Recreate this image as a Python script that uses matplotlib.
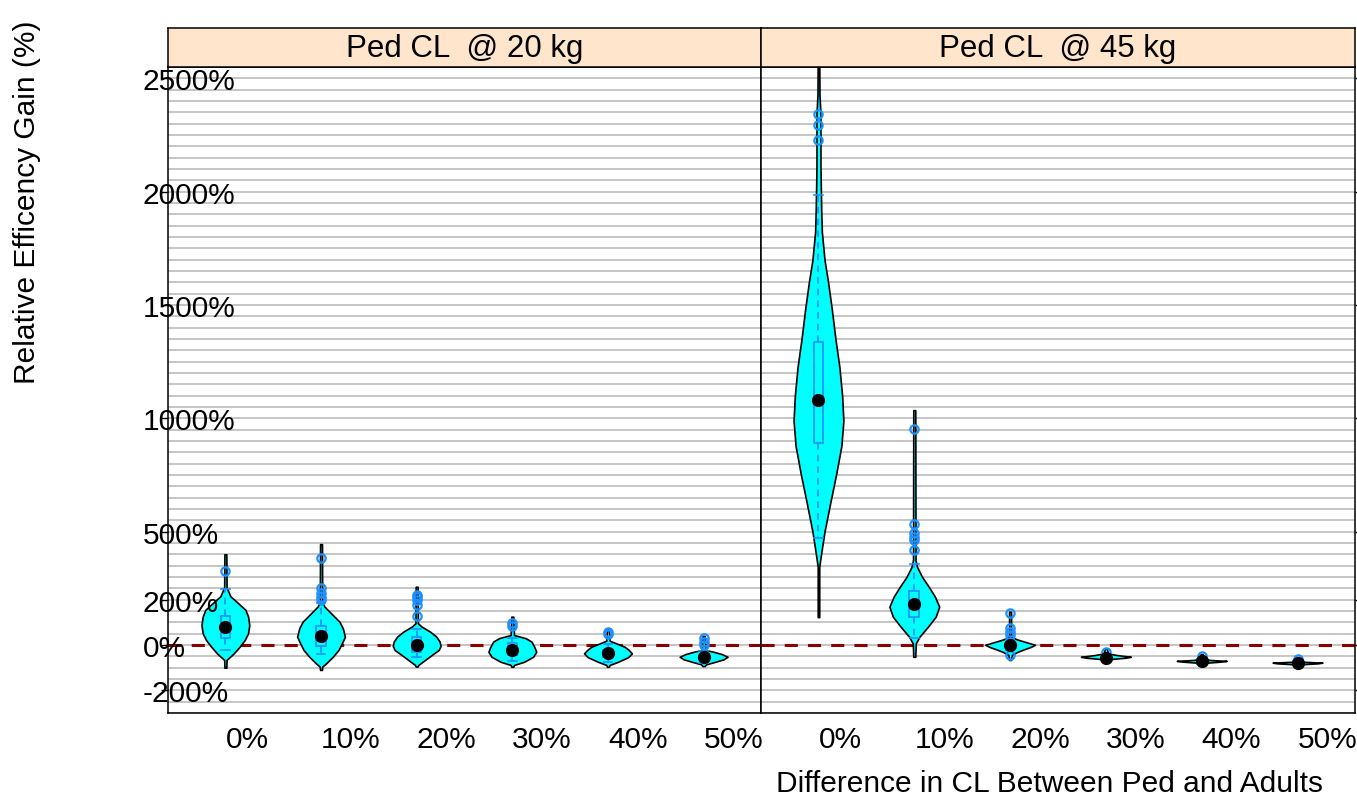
import matplotlib
matplotlib.use("Agg")
import matplotlib.pyplot as plt
import matplotlib.transforms as mtransforms
from matplotlib.patches import Rectangle
from matplotlib.ticker import MultipleLocator
import numpy as np

plt.rcParams['font.family'] = ['Liberation Sans', 'DejaVu Sans']

# ---- data ----
categories = ['0%', '10%', '20%', '30%', '40%', '50%']
panel_titles = ['Ped CL  @ 20 kg', 'Ped CL  @ 45 kg']
ytick_vals = [2500, 2000, 1500, 1000, 500, 200, 0, -200]
ytick_labels = ['2500%', '2000%', '1500%', '1000%', '500%', '200%', '0%', '-200%']

# violin outlines: y values (%) and relative density at each y
kg20_y = [
    [400, 255, 215, 185, 155, 125, 88, 52, 22, -8, -37, -66, -100],
    [445, 190, 170, 140, 103, 74, 37, 7, -22, -52, -81, -96, -110],
    [257, 96, 81, 59, 37, 15, -4, -22, -44, -66, -88, -95],
    [125, 44, 30, 15, -8, -30, -52, -74, -88, -96],
    [69, 19, 7, -8, -22, -37, -54, -74, -88, -96],
    [40, -22, -30, -40, -52, -63, -74, -85, -93],
]
kg20_dens = [
    [0.04, 0.05, 0.21, 0.53, 0.84, 0.95, 1.0, 0.95, 0.81, 0.59, 0.35, 0.05, 0.04],
    [0.04, 0.05, 0.14, 0.42, 0.77, 0.91, 1.0, 0.87, 0.73, 0.49, 0.21, 0.05, 0.04],
    [0.04, 0.05, 0.21, 0.56, 0.82, 0.96, 1.0, 0.92, 0.63, 0.35, 0.07, 0.04],
    [0.04, 0.07, 0.56, 0.80, 0.92, 1.0, 0.87, 0.49, 0.07, 0.04],
    [0.04, 0.07, 0.35, 0.70, 0.87, 1.0, 0.84, 0.42, 0.07, 0.04],
    [0.04, 0.08, 0.42, 0.76, 1.0, 0.84, 0.49, 0.11, 0.04],
]
# whisker low, q1, median, q3, whisker high
kg20_box = [
    [-22, 30, 78, 128, 245],
    [-40, -4, 40, 84, 185],
    [-54, -30, -2, 34, 69],
    [-70, -45, -20, 10, 30],
    [-75, -55, -37, -20, 5],
    [-80, -65, -54, -42, -28],
]
kg20_out = [
    [325],
    [385, 250, 228, 213, 198],
    [222, 210, 198, 178, 126],
    [96, 84],
    [56, 47],
    [30, 15, 2],
]

kg45_y = [
    [2600, 2429, 2343, 2107, 1918, 1823, 1697, 1605, 1477, 1351, 1226, 1099,
     989, 879, 754, 626, 502, 406, 344, 123],
    [1036, 375, 345, 301, 257, 213, 169, 125, 81, 37, 7, -52],
    [147, 37, 25, 13, 1, -8, -19, -31, -44, -66],
    [-15, -37, -45, -52, -56, -60, -63, -74],
    [-40, -60, -66, -70, -73, -78, -82, -88],
    [-55, -68, -74, -78, -81, -85, -88, -93],
]
kg45_dens = [
    [0.03, 0.04, 0.08, 0.08, 0.11, 0.135, 0.245, 0.38, 0.54, 0.68, 0.84, 0.95,
     1.0, 0.92, 0.71, 0.47, 0.245, 0.11, 0.03, 0.03],
    [0.04, 0.05, 0.11, 0.31, 0.58, 0.83, 1.0, 0.86, 0.55, 0.21, 0.06, 0.04],
    [0.04, 0.04, 0.27, 0.63, 1.0, 0.84, 0.56, 0.28, 0.07, 0.04],
    [0.04, 0.08, 0.48, 1.0, 0.80, 0.40, 0.08, 0.04],
    [0.04, 0.08, 0.32, 1.0, 0.80, 0.20, 0.04, 0.04],
    [0.04, 0.08, 0.24, 1.0, 0.80, 0.16, 0.04, 0.04],
]
kg45_box = [
    [472, 891, 1080, 1336, 1984],
    [30, 125, 181, 240, 356],
    [-20, -8, 0, 10, 25],
    [-66, -60, -57, -52, -45],
    [-82, -76, -72, -68, -62],
    [-88, -84, -80, -76, -70],
]
kg45_out = [
    [2343, 2293, 2230],
    [952, 533, 495, 478, 465, 419],
    [140, 74, 59, 44, -44],
    [-30],
    [-48],
    [-63],
]

# ---- styling ----
W, H = 1357, 799
BLUE = '#1E90FF'
BW = 0.05    # half width of the box
CW = 0.045   # half width of whisker caps
FS = 21.5

fig = plt.figure(figsize=(W / 100, H / 100), dpi=100)

panel_x = [(168, 761), (761, 1355)]
top, bot, strip_top = 67, 713, 28
violin_w = [0.25, 0.26]

data = [(kg20_y, kg20_dens, kg20_box, kg20_out),
        (kg45_y, kg45_dens, kg45_box, kg45_out)]

axes = []
for p, (x0, x1) in enumerate(panel_x):
    ax = fig.add_axes([x0 / W, 1 - bot / H, (x1 - x0) / W, (bot - top) / H])
    axes.append(ax)
    ys, dens, box, outl = data[p]
    pos = np.arange(1, len(categories) + 1)

    ax.set_xlim(0.4, 6.6)
    ax.set_ylim(-300, 2550)
    ax.set_axisbelow(True)
    ax.yaxis.set_minor_locator(MultipleLocator(50))
    ax.set_yticks(ytick_vals)
    ax.grid(True, which='both', axis='y', color='#c0c0c0', lw=1.3)
    ax.tick_params(axis='y', which='minor', length=0)
    ax.set_yticklabels([])
    if p == 0:
        ax.tick_params(axis='y', which='major', direction='out', length=5, width=1, left=True, right=False)
    else:
        ax.tick_params(axis='y', which='major', direction='out', length=5, width=1, left=False, right=True)

    ax.set_xticks(pos)
    ax.set_xticklabels(categories, ha='left', fontsize=FS)
    ax.tick_params(axis='x', length=0, pad=9)

    for s in ax.spines.values():
        s.set_linewidth(1.1)

    ax.axhline(0, color='#8B0000', lw=2.2, dashes=(4.3, 3.3), zorder=2)

    for i, x in enumerate(pos):
        y = np.array(ys[i], dtype=float)
        d = np.array(dens[i], dtype=float)
        hw = d / d.max() * violin_w[p]
        ax.fill_betweenx(y, x - hw, x + hw, facecolor='#00FFFF',
                         edgecolor='black', lw=1.2, zorder=3)
        wlo, q1, med, q3, whi = box[i]
        ax.add_patch(Rectangle((x - BW, q1), 2 * BW, q3 - q1, fill=False,
                               edgecolor=BLUE, lw=1.2, zorder=4))
        ax.plot([x, x], [q3, whi], color=BLUE, lw=1.2, ls=(0, (4, 3)), zorder=4)
        ax.plot([x, x], [q1, wlo], color=BLUE, lw=1.2, ls=(0, (4, 3)), zorder=4)
        ax.plot([x - CW, x + CW], [whi, whi], color=BLUE, lw=1.2, zorder=4)
        ax.plot([x - CW, x + CW], [wlo, wlo], color=BLUE, lw=1.2, zorder=4)
        ax.plot([x] * len(outl[i]), outl[i], 'o', mfc='none', mec=BLUE,
                ms=6, mew=1.6, zorder=5)
        ax.plot(x, med, 'o', color='black', ms=8.5, zorder=6)

    # strip
    sax = fig.add_axes([x0 / W, 1 - top / H, (x1 - x0) / W, (top - strip_top) / H])
    sax.set_facecolor('#FFE5CC')
    sax.set_xticks([])
    sax.set_yticks([])
    for s in sax.spines.values():
        s.set_linewidth(1.1)
    sax.text(0.5, 0.45, panel_titles[p], ha='center', va='center', fontsize=FS + 1,
             transform=sax.transAxes)

# y tick labels, left aligned over the left border like the original
trans = mtransforms.blended_transform_factory(fig.transFigure, axes[0].transData)
trans = mtransforms.offset_copy(trans, fig=fig, y=-4, units='dots')
for v, lab in zip(ytick_vals, ytick_labels):
    fig.text(143 / W, v, lab, transform=trans, ha='left', va='center', fontsize=FS)

fig.text(27 / W, 1 - 202 / H, 'Relative Efficency Gain (%)', rotation=90,
         ha='center', va='center', fontsize=FS)
fig.text(1050 / W, 1 - 784 / H, 'Difference in CL Between Ped and Adults',
         ha='center', va='center', fontsize=FS)

fig.savefig('out.png', dpi=100)
